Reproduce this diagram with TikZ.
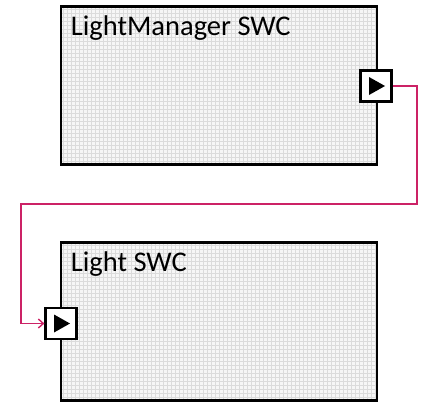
\documentclass[tikz,border=0pt]{standalone}
\usepackage{fontspec}
\setmainfont{Carlito}
\usetikzlibrary{positioning, arrows.meta, calc}
\definecolor{wirered}{RGB}{204,34,102}
\tikzset{
    swc/.style={draw, line width=2.5pt, fill=gray!7, minimum width=316pt, minimum height=158pt, path picture={
        \draw[gray!28, line width=0.3pt, step=4pt] (path picture bounding box.south west) grid (path picture bounding box.north east);
    }},
    port/.style={draw, line width=2.2pt, fill=white, minimum size=31pt, inner sep=0pt, path picture={
        \fill[black] ($(path picture bounding box.center)+(-7pt,-9pt)$) -- ++(16pt,9pt) -- ++(-16pt,9pt) -- cycle;
    }},
    swc label/.style={font=\fontsize{28.5}{32}\selectfont, inner sep=0pt},
    wire/.style={wirered, line width=1.4pt, -{Straight Barb[length=5pt, width=9pt]}}
}
\begin{document}
\begin{tikzpicture}[x=1pt, y=-1pt]
    \useasboundingbox (0,0) rectangle (435,413);

    % --- Components ---
    \node (lmSwc) [swc] at (219,85.5) {};
    \node (lmText) [swc label, below right=10pt and 11pt of lmSwc.north west] {LightManager SWC};
    \node (lightSwc) [swc] at (219,321.5) {};
    \node (lightText) [swc label, below right=10pt and 11pt of lightSwc.north west] {Light SWC};

    % --- Ports ---
    \node (portOut) [port] at (376,86) {};
    \node (portIn) [port] at (61,323.5) {};

    % --- Connector ---
    \coordinate (wireTop) at (417,204);
    \coordinate (wireLeft) at (21,204);
    \draw[wire] (portOut.east) -| (wireTop) -- (wireLeft) |- (portIn.west);
\end{tikzpicture}
\end{document}
